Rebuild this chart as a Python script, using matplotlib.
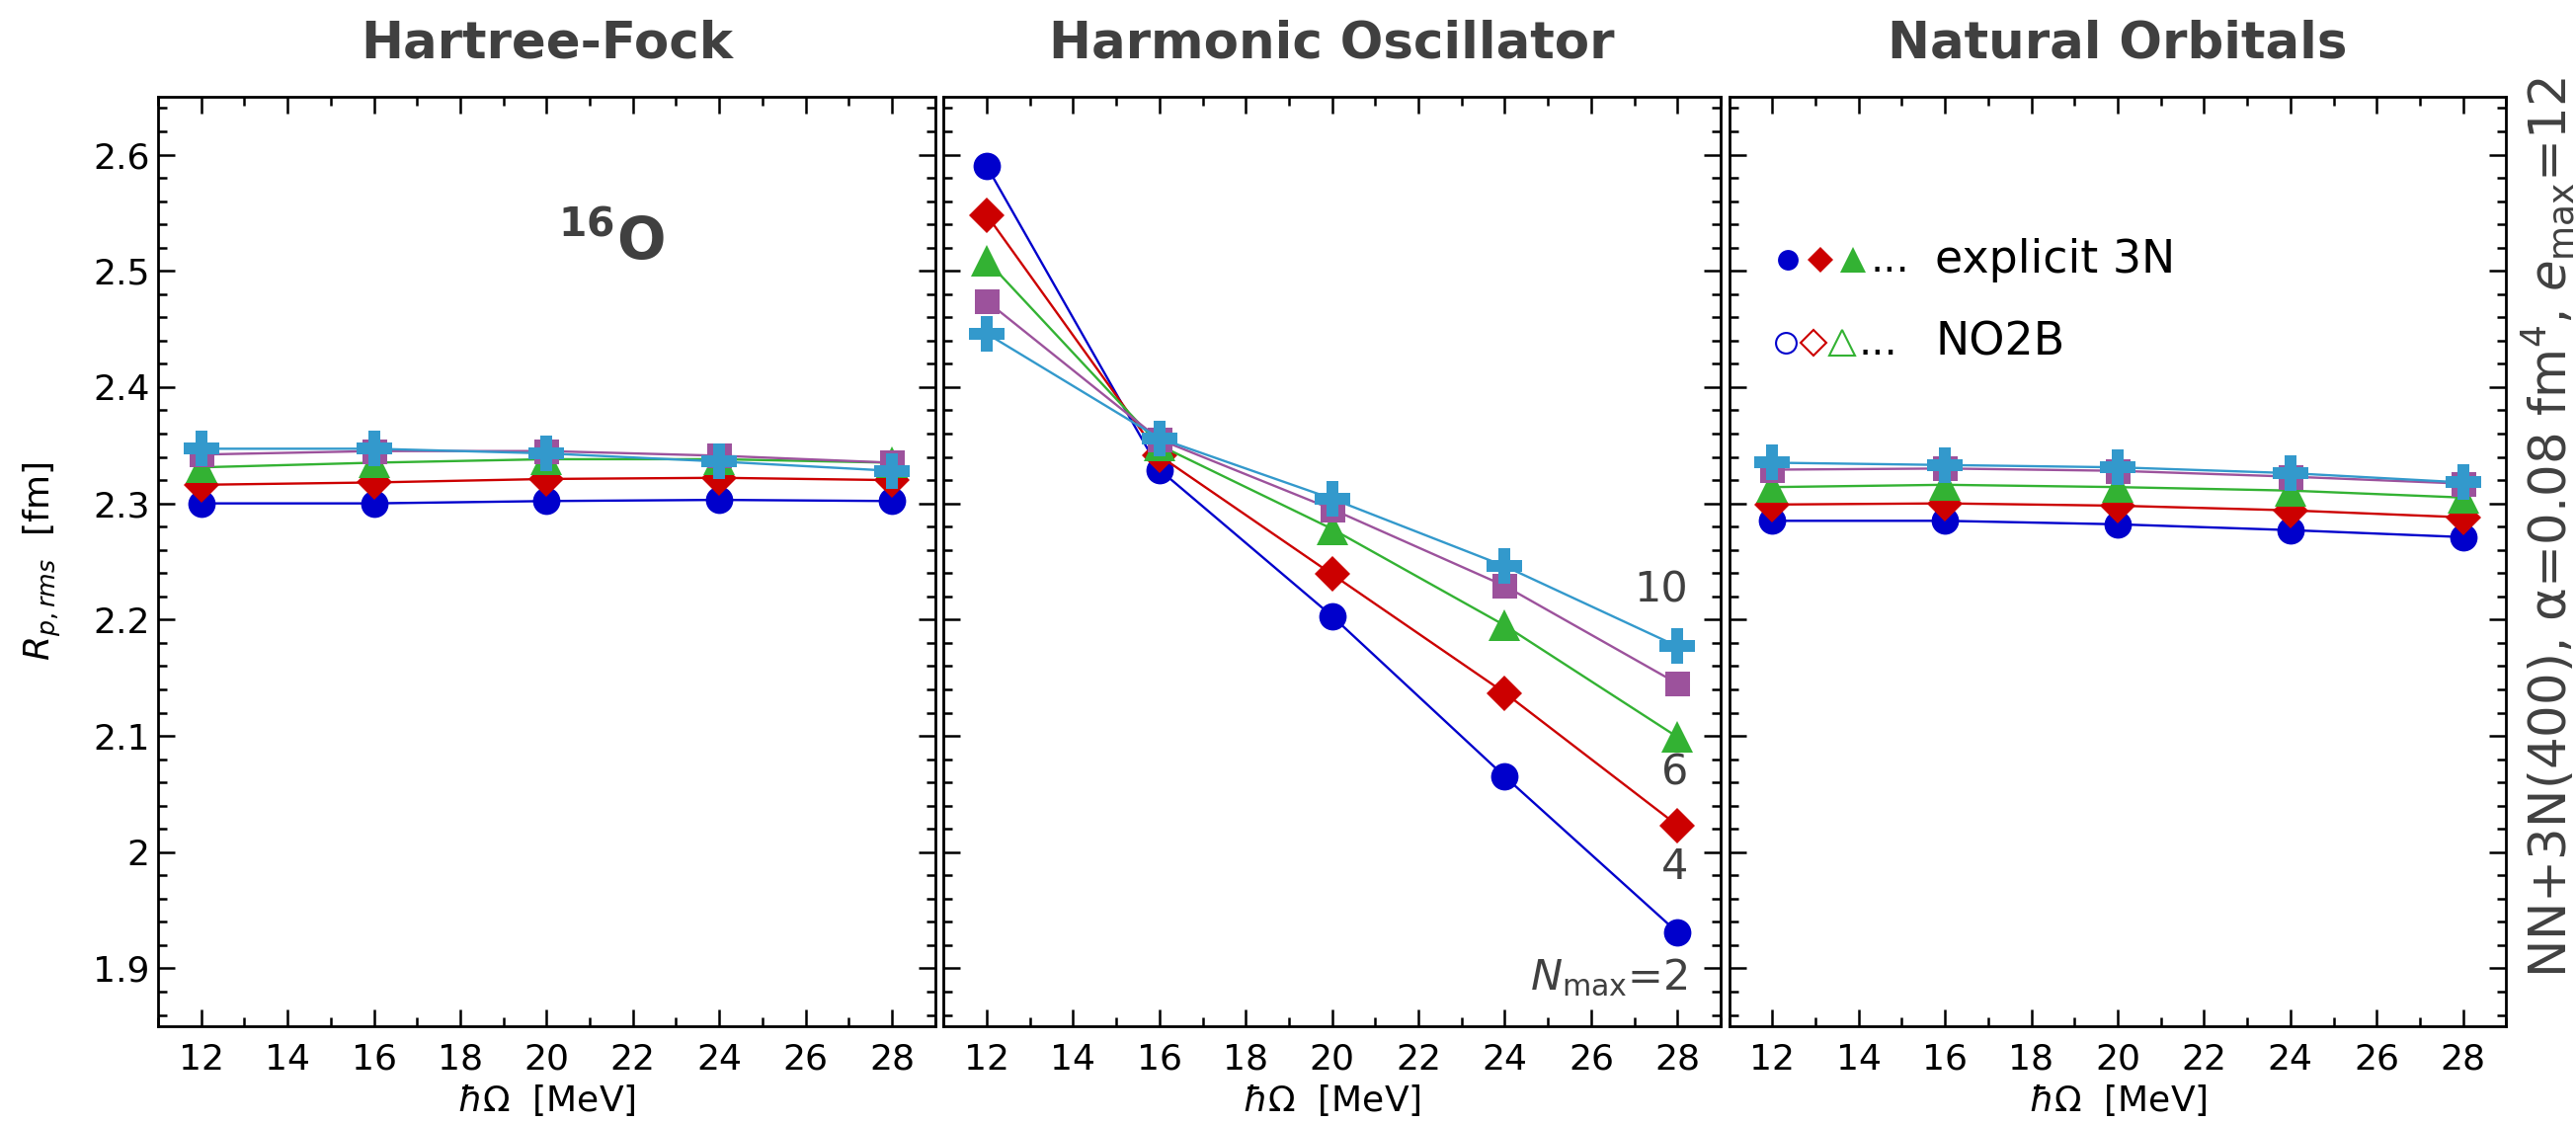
import matplotlib
matplotlib.use('Agg')
import matplotlib.pyplot as plt
from matplotlib.ticker import MultipleLocator

# oscillator frequency hbar*Omega [MeV]
hw = [12, 16, 20, 24, 28]
nmax_labels = ['$N_{\\rm max}$=2', '4', '6', '10']

# proton rms radius R_p,rms [fm], one list per Nmax (2, 4, 6, 8, 10)
hf_n2 = [2.300, 2.300, 2.302, 2.303, 2.302]
hf_n4 = [2.316, 2.318, 2.321, 2.322, 2.320]
hf_n6 = [2.331, 2.335, 2.338, 2.338, 2.335]
hf_n8 = [2.342, 2.345, 2.345, 2.341, 2.335]
hf_n10 = [2.347, 2.347, 2.343, 2.336, 2.328]

ho_n2 = [2.590, 2.329, 2.203, 2.065, 1.931]
ho_n4 = [2.548, 2.341, 2.239, 2.137, 2.023]
ho_n6 = [2.509, 2.350, 2.278, 2.195, 2.099]
ho_n8 = [2.474, 2.355, 2.295, 2.229, 2.145]
ho_n10 = [2.446, 2.356, 2.304, 2.246, 2.177]

no_n2 = [2.285, 2.285, 2.282, 2.277, 2.271]
no_n4 = [2.299, 2.300, 2.298, 2.294, 2.288]
no_n6 = [2.314, 2.316, 2.314, 2.311, 2.305]
no_n8 = [2.329, 2.330, 2.328, 2.323, 2.317]
no_n10 = [2.335, 2.333, 2.331, 2.326, 2.318]

panels = [
    ('Hartree-Fock', [hf_n2, hf_n4, hf_n6, hf_n8, hf_n10]),
    ('Harmonic Oscillator', [ho_n2, ho_n4, ho_n6, ho_n8, ho_n10]),
    ('Natural Orbitals', [no_n2, no_n4, no_n6, no_n8, no_n10]),
]

colors = ['#0000cc', '#cc0000', '#33b233', '#9c529c', '#3399cc']
markers = ['o', 'D', '^', 's', 'P']
msizes = [20, 18, 23, 18, 26]
gray = '#404040'

plt.rcParams['font.family'] = ['DejaVu Sans']
plt.rcParams['mathtext.fontset'] = 'dejavusans'

fig = plt.figure(figsize=(26.08, 11.37), dpi=100)
lefts = [0.06135, 0.3663, 0.67125]
axes = []
for i, (title, series) in enumerate(panels):
    ax = fig.add_axes([lefts[i], 0.08593, 0.30165, 0.82814])
    axes.append(ax)
    for vals, c, m, ms in zip(series, colors, markers, msizes):
        ax.plot(hw, vals, color=c, lw=1.7, marker=m, ms=ms, mec=c, mfc=c, mew=0)
    ax.set_xlim(11, 29)
    ax.set_ylim(1.85, 2.65)
    ax.xaxis.set_major_locator(MultipleLocator(2))
    ax.xaxis.set_minor_locator(MultipleLocator(1))
    ax.yaxis.set_major_locator(MultipleLocator(0.1))
    ax.yaxis.set_minor_locator(MultipleLocator(0.02))
    ax.tick_params(which='both', direction='in', top=True, right=True, width=1.8)
    ax.tick_params(which='major', length=12, labelsize=26)
    ax.tick_params(which='minor', length=6.5)
    ax.tick_params(axis='x', pad=12)
    ax.tick_params(axis='y', pad=6)
    for sp in ax.spines.values():
        sp.set_linewidth(2)
    ax.set_xlabel('$\\hbar\\Omega$  [MeV]', fontsize=26, labelpad=4)
    ax.set_title(title, fontsize=37, fontweight='bold', color=gray, pad=28)
    if i == 0:
        ax.yaxis.set_major_formatter(plt.FuncFormatter(lambda v, p: f'{v:g}'))
        ax.set_ylabel('$R_{p,rms}$  [fm]', fontsize=26, labelpad=22)
    else:
        ax.tick_params(axis='y', labelleft=False)

# nucleus label
axes[0].text(21.5, 2.524, '$\\mathbf{^{16}O}$', fontsize=42, color=gray,
             ha='center', va='center')

# Nmax labels next to the HO curves
for lab, y in zip(nmax_labels, [1.892, 1.987, 2.068, 2.225]):
    axes[1].text(28.25, y, lab, fontsize=31, color=gray, ha='right', va='center')

# legend for filled / open symbols
ax = axes[2]
row1, row2 = 0.8244, 0.7354
for x, c, m, ms in zip([0.075, 0.117, 0.16], colors[:3], ['o', 'D', '^'], [15, 13, 19]):
    ax.plot([x], [row1], marker=m, ms=ms, color=c, mec=c, mew=0,
            transform=ax.transAxes, clip_on=False)
for x, c, m, ms in zip([0.073, 0.109, 0.145], colors[:3], ['o', 'D', '^'], [15, 13, 19]):
    ax.plot([x], [row2], marker=m, ms=ms, color=c, mfc='none', mec=c, mew=1.5,
            transform=ax.transAxes, clip_on=False)
ax.text(0.181, row1, '...', fontsize=30, transform=ax.transAxes, ha='left', va='center')
ax.text(0.166, row2, '...', fontsize=30, transform=ax.transAxes, ha='left', va='center')
ax.text(0.265, row1, 'explicit 3N', fontsize=33, transform=ax.transAxes, ha='left', va='center')
ax.text(0.265, row2, 'NO2B', fontsize=33, transform=ax.transAxes, ha='left', va='center')

fig.text(0.9893, 0.5303, 'NN+3N(400), α=0.08 fm$^4$, $e_{\\rm max}$=12',
         rotation=90, fontsize=37, color=gray, ha='center', va='center')

fig.savefig('out.png', dpi=100)
